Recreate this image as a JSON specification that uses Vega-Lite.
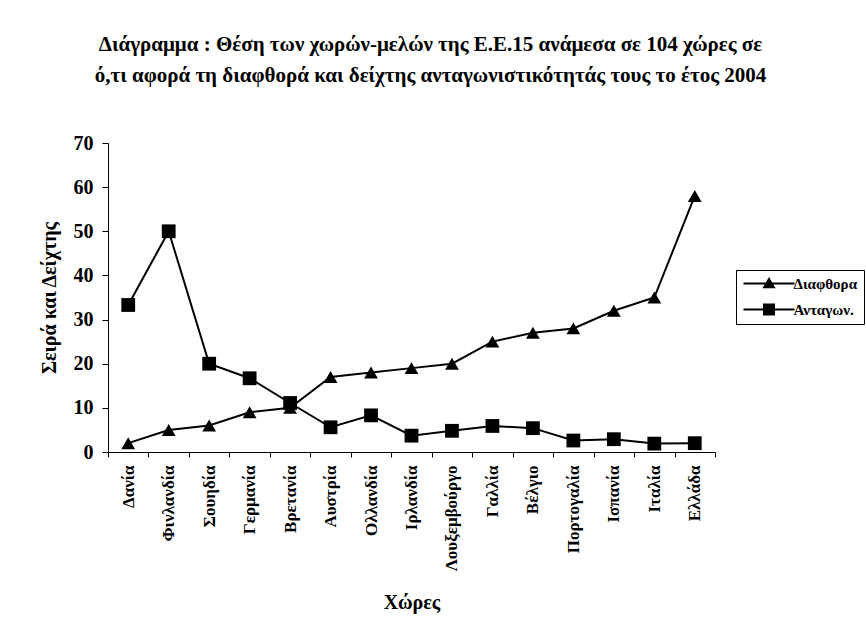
{
  "$schema": "https://vega.github.io/schema/vega-lite/v6.json",
  "autosize": "none",
  "width": 607,
  "height": 309,
  "padding": {"left": 108, "top": 143, "right": 151, "bottom": 183},
  "background": "white",
  "config": {
    "view": {"stroke": null},
    "font": "Liberation Serif, Times New Roman, serif",
    "axis": {"domainColor": "black", "tickColor": "black", "labelColor": "black", "titleColor": "black", "grid": false, "domainWidth": 1, "tickWidth": 1}
  },
  "title": {
    "text": ["Διάγραμμα : Θέση των χωρών-μελών της Ε.Ε.15 ανάμεσα σε 104 χώρες σε", "ό,τι αφορά τη διαφθορά και δείχτης ανταγωνιστικότητάς τους το έτος 2004"],
    "font": "Liberation Serif, Times New Roman, serif",
    "fontSize": 21,
    "fontWeight": "bold",
    "color": "black",
    "anchor": "middle",
    "frame": "group",
    "dx": 19,
    "offset": 47,
    "lineHeight": 31
  },
  "data": {
    "values": [
      {"country": "Δανία", "series": "Διαφθορα", "value": 2},
      {"country": "Φινλανδία", "series": "Διαφθορα", "value": 5},
      {"country": "Σουηδία", "series": "Διαφθορα", "value": 6},
      {"country": "Γερμανία", "series": "Διαφθορα", "value": 9},
      {"country": "Βρετανία", "series": "Διαφθορα", "value": 10},
      {"country": "Αυστρία", "series": "Διαφθορα", "value": 17},
      {"country": "Ολλανδία", "series": "Διαφθορα", "value": 18},
      {"country": "Ιρλανδία", "series": "Διαφθορα", "value": 19},
      {"country": "Λουξεμβούργο", "series": "Διαφθορα", "value": 20},
      {"country": "Γαλλία", "series": "Διαφθορα", "value": 25},
      {"country": "Βέλγιο", "series": "Διαφθορα", "value": 27},
      {"country": "Πορτογαλία", "series": "Διαφθορα", "value": 28},
      {"country": "Ισπανία", "series": "Διαφθορα", "value": 32},
      {"country": "Ιταλία", "series": "Διαφθορα", "value": 35},
      {"country": "Ελλάδα", "series": "Διαφθορα", "value": 58},
      {"country": "Δανία", "series": "Ανταγων.", "value": 33.3},
      {"country": "Φινλανδία", "series": "Ανταγων.", "value": 50},
      {"country": "Σουηδία", "series": "Ανταγων.", "value": 20},
      {"country": "Γερμανία", "series": "Ανταγων.", "value": 16.7},
      {"country": "Βρετανία", "series": "Ανταγων.", "value": 11.1},
      {"country": "Αυστρία", "series": "Ανταγων.", "value": 5.6},
      {"country": "Ολλανδία", "series": "Ανταγων.", "value": 8.3},
      {"country": "Ιρλανδία", "series": "Ανταγων.", "value": 3.7},
      {"country": "Λουξεμβούργο", "series": "Ανταγων.", "value": 4.8},
      {"country": "Γαλλία", "series": "Ανταγων.", "value": 5.9},
      {"country": "Βέλγιο", "series": "Ανταγων.", "value": 5.4},
      {"country": "Πορτογαλία", "series": "Ανταγων.", "value": 2.6},
      {"country": "Ισπανία", "series": "Ανταγων.", "value": 2.9},
      {"country": "Ιταλία", "series": "Ανταγων.", "value": 1.9},
      {"country": "Ελλάδα", "series": "Ανταγων.", "value": 2}
    ]
  },
  "encoding": {
    "x": {
      "field": "country",
      "type": "nominal",
      "sort": null,
      "scale": {"type": "band", "paddingInner": 0, "paddingOuter": 0},
      "axis": {
        "title": "Χώρες",
        "titleFontSize": 20,
        "titleFontWeight": "bold",
        "titlePadding": 22,
        "labelAngle": -90,
        "labelFontSize": 17,
        "labelFontWeight": "bold",
        "labelPadding": 8,
        "tickSize": 5,
        "tickBand": "extent",
        "labelAlign": "right",
        "labelBaseline": "middle"
      }
    },
    "y": {
      "field": "value",
      "type": "quantitative",
      "scale": {"domain": [0, 70], "nice": false},
      "axis": {
        "title": "Σειρά  και Δείχτης",
        "titleFontSize": 20,
        "titleFontWeight": "bold",
        "titlePadding": 14,
        "values": [0, 10, 20, 30, 40, 50, 60, 70],
        "labelFontSize": 20,
        "labelFontWeight": "bold",
        "labelPadding": 9,
        "tickSize": 6
      }
    }
  },
  "layer": [
    {
      "mark": {"type": "line", "color": "black", "strokeWidth": 2},
      "encoding": {"detail": {"field": "series"}}
    },
    {
      "mark": {"type": "point", "filled": true, "color": "black", "opacity": 1, "size": 190},
      "encoding": {
        "shape": {
          "condition": {"test": "datum.series === 'Διαφθορα'", "value": "triangle-up"},
          "value": "square"
        }
      }
    },
    {
      "mark": {"type": "point", "filled": true, "color": "black", "opacity": 0, "size": 144},
      "encoding": {
        "shape": {
          "field": "series",
          "type": "nominal",
          "scale": {
            "domain": ["Διαφθορα", "Ανταγων."],
            "range": ["M-4.25,-0.17H4.25V0.17H-4.25ZM0,-1.1L1.1,0.8H-1.1Z", "M-4.25,-0.17H4.25V0.17H-4.25ZM-1,-1H1V1H-1Z"]
          },
          "legend": {
            "title": null,
            "orient": "none",
            "legendX": 628,
            "legendY": 127,
            "padding": 6,
            "strokeColor": "black",
            "fillColor": "white",
            "symbolSize": 144,
            "symbolOpacity": 1,
            "symbolFillColor": "black",
            "symbolStrokeWidth": 0,
            "symbolOffset": 19.5,
            "labelOffset": 17,
            "labelFontSize": 15,
            "labelFontWeight": "bold",
            "labelColor": "black",
            "rowPadding": 10
          }
        }
      }
    }
  ]
}
